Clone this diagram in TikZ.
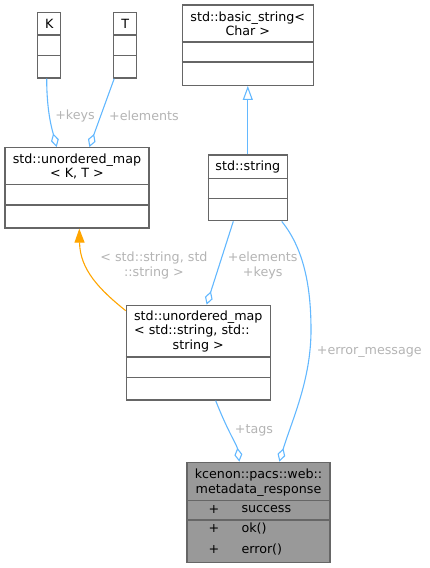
\documentclass[tikz,border=0pt]{standalone}
\usepackage{fontspec}
\setmainfont{DejaVu Sans}
\usetikzlibrary{arrows.meta}
\definecolor{edgeblue}{HTML}{63B8FF}
\definecolor{boxline}{HTML}{666666}
\definecolor{labelgray}{HTML}{B4B4B4}
\definecolor{focusfill}{HTML}{999999}
\definecolor{bindorange}{HTML}{FFA500}
\begin{document}
\begin{tikzpicture}[x=1pt,y=-1pt]

      \tikzset{classbox/.style={draw=boxline, line width=1.3pt, inner sep=0pt, fill=white},
               classtext/.style={inner sep=0pt, font=\fontsize{12.7}{14.4}\selectfont, align=center},
               edgelabel/.style={classtext, text=labelgray},
               member/.style={draw=edgeblue, line width=1.1pt, -{Diamond[open, length=14pt, width=8pt]}},
               derived/.style={draw=edgeblue, line width=1.1pt, -{Triangle[open, length=14pt, width=10pt]}},
               bound/.style={draw=bindorange, line width=1.1pt, -{Triangle[length=14pt, width=10pt, fill=bindorange]}}}
      \useasboundingbox (0,0) rectangle (429,568);
%% Classes
      	\node[classbox, minimum width=23pt, minimum height=65.7pt] (K) at (49.2,45.15) {};
      	\node[classbox, minimum width=23pt, minimum height=65.7pt] (T) at (125.2,45.15) {};
      	\node[classbox, minimum width=144pt, minimum height=80.3pt] (mapKT) at (77,187.85) {};
      	\node[classbox, minimum width=131pt, minimum height=80.3pt] (basicstr) at (247.8,45.15) {};
      	\node[classbox, minimum width=79pt, minimum height=65.7pt] (str) at (247.8,187.85) {};
      	\node[classbox, minimum width=144.4pt, minimum height=94.7pt] (mapSS) at (198.5,352.65) {};
      	\node[classbox, fill=focusfill, minimum width=143pt, minimum height=100.4pt] (resp) at (258.5,512.5) {};
%Compartments
      	\foreach \n/\a/\b in {K/23.4/43.7, T/23.4/43.7, mapKT/37.3/58, basicstr/37.7/57.7,
      	                      str/24/44, mapSS/52.4/73, resp/38.7/58.4}{
      		\draw[boxline, line width=1.3pt] ([yshift=-\a pt]\n.north west) -- ([yshift=-\a pt]\n.north east);
      		\draw[boxline, line width=1.3pt] ([yshift=-\b pt]\n.north west) -- ([yshift=-\b pt]\n.north east);
      	}
%Titles
      	\node[classtext] (Kname) at (49.2,24.3) {K};
      	\node[classtext] (Tname) at (125.2,24.3) {T};
      	\node[classtext] (mapKTname) at (77,166.3) {std::unordered\_map\\< K, T >};
      	\node[classtext] (basicstrname) at (247.8,24) {std::basic\_string<\\Char >};
      	\node[classtext] (strname) at (247.8,167) {std::string};
      	\node[classtext] (mapSSname) at (198.3,332) {\begin{tabular}{@{}l@{}}std::unordered\_map\\< std::string, std::\\\multicolumn{1}{@{}c@{}}{string >}\end{tabular}};
      	\node[classtext] (respname) at (258.5,482.5) {kcenon::pacs::web::\\metadata\_response};
      	\node[classtext] (respplus1) at (214,509.3) {+};
      	\node[classtext, anchor=west] (respsuccess) at (241.3,509.3) {success};
      	\node[classtext] (respplus2) at (214,529) {+};
      	\node[classtext, anchor=west] (respok) at (241.3,529) {ok()};
      	\node[classtext] (respplus3) at (214,549.3) {+};
      	\node[classtext, anchor=west] (resperror) at (241.3,549.3) {error()};
%Edges
		\draw[member] ([xshift=-2.5pt]K.south) .. controls (46.7,112) and (52,129) .. ([xshift=52.3pt]mapKT.north west);
		\draw[member] ([xshift=-11pt]T.south) -- ([xshift=85pt]mapKT.north west);
		\draw[derived] (str.north) -- (basicstr.south);
		\draw[member] ([xshift=-14.5pt]str.south) -- ([xshift=81pt]mapSS.north west);
		\draw[member] ([xshift=33.9pt]str.south) .. controls (305,250) and (311,290) .. (311,330)
		              .. controls (311,380) and (292,420) .. ([xshift=93pt]resp.north west);
		\draw[member] ([xshift=17.2pt]mapSS.south) .. controls (228,432) and (237,445) .. ([xshift=53pt]resp.north west);
		\draw[bound] ([yshift=-6pt]mapSS.north west) .. controls (100,290) and (80,270) .. ([xshift=2.3pt]mapKT.south);
%Labels
		\node[edgelabel] (lkeys) at (75,115.7) {+keys};
		\node[edgelabel] (lelements) at (144,115.7) {+elements};
		\node[edgelabel] (lelemkeys) at (262.7,265.5) {+elements\\+keys};
		\node[edgelabel] (lerror) at (369.3,351.7) {+error\_message};
		\node[edgelabel] (ltags) at (254,430) {+tags};
		\node[edgelabel] (lbind) at (154,265.5) {< std::string, std\\::string >};

	\end{tikzpicture}
\end{document}
